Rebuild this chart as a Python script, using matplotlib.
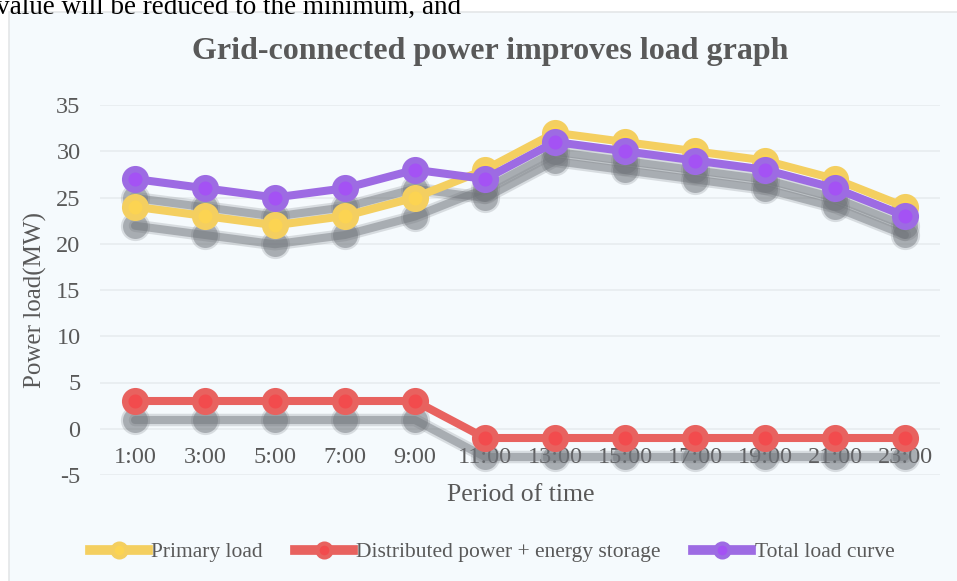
import matplotlib
matplotlib.use("Agg")
import matplotlib.pyplot as plt
import matplotlib.transforms as mtransforms
from matplotlib.lines import Line2D
from matplotlib.patches import Rectangle

# ── Data ─────────────────────────────────────────────────────────────────────
hours = ["1:00", "3:00", "5:00", "7:00", "9:00", "11:00", "13:00",
         "15:00", "17:00", "19:00", "21:00", "23:00"]
primary_load = [24, 23, 22, 23, 25, 28, 32, 31, 30, 29, 27, 24]
distributed = [3, 3, 3, 3, 3, -1, -1, -1, -1, -1, -1, -1]
total_load = [27, 26, 25, 26, 28, 27, 31, 30, 29, 28, 26, 23]
y_ticks = [-5, 0, 5, 10, 15, 20, 25, 30, 35]

series = [
    ("Primary load", primary_load, "#f4cf60", "#fcd452"),
    ("Distributed power + energy storage", distributed, "#e8625f", "#f24b4d"),
    ("Total load curve", total_load, "#9d6be3", "#a452f4"),
]

TEXT = "#595959"
SERIF = ["Liberation Serif", "DejaVu Serif"]
plt.rcParams.update({
    "font.family": SERIF,
    "text.color": TEXT,
    "axes.labelcolor": TEXT,
    "xtick.color": TEXT,
    "ytick.color": TEXT,
})

fig = plt.figure(figsize=(9.57, 5.81), dpi=100)
fig.patch.set_facecolor("white")

# chart area box (behind the axes)
fig.patches.append(Rectangle((9 / 957, -0.01), 1.0, 1 - 12 / 581 + 0.01,
                             transform=fig.transFigure, facecolor="#f5fafd",
                             edgecolor="#e4e6e8", linewidth=1.2, zorder=-5))

# paragraph text above the chart (cut at the page edge in the source)
fig.text(-0.004, 1 - 14 / 581, "value will be reduced to the minimum, and",
         fontsize=19.5, color="black", va="baseline", ha="left")

ax = fig.add_axes([100 / 957, 1 - 475 / 581, 840 / 957, 370 / 581])
ax.set_facecolor("none")
x = list(range(len(hours)))

# shadows first (offset down a bit, soft grey)
shadow_tr = mtransforms.offset_copy(ax.transData, fig=fig, x=0, y=-19,
                                    units="dots")
for name, vals, line_c, face_c in series:
    ax.plot(x, vals, color="#70747a", lw=9, alpha=0.22, transform=shadow_tr,
            solid_capstyle="round", marker="o", ms=21, mew=0, zorder=1)
    ax.plot(x, vals, color="#70747a", lw=5.8, alpha=0.45, transform=shadow_tr,
            solid_capstyle="round", marker="o", ms=18, mew=0, zorder=1.1)

for name, vals, line_c, face_c in series:
    ax.plot(x, vals, color=line_c, lw=5.8, marker="o", ms=14.8,
            mfc=face_c, mec=line_c, mew=4.7, zorder=3, label=name)

ax.set_xlim(-0.5, len(hours) - 0.5)
ax.set_ylim(-5, 35)
ax.set_yticks(y_ticks)
ax.set_yticklabels([str(v) for v in y_ticks])
ax.set_xticks(x)
ax.set_xticklabels(hours)
ax.tick_params(axis="both", length=0, labelsize=17.5)
ax.tick_params(axis="y", pad=14)
ax.tick_params(axis="x", pad=13)
for s in ["top", "right", "left"]:
    ax.spines[s].set_visible(False)
ax.spines["bottom"].set_position(("data", 0))
ax.spines["bottom"].set_visible(False)
ax.grid(axis="y", color="#e8edf0", lw=1.3)
ax.set_axisbelow(True)

ax.set_ylabel("Power load(MW)", fontsize=18)
ax.yaxis.set_label_coords(-0.077, 0.473)
ax.yaxis.label.set_va("center")
ax.set_xlabel("Period of time", fontsize=18.5)
ax.xaxis.set_label_coords(0.501, -0.054)
ax.xaxis.label.set_va("center")

fig.text(490 / 957, 1 - 52 / 581, "Grid-connected power improves load graph",
         fontsize=23, fontweight="bold", ha="center", va="center", color=TEXT)

handles = [Line2D([], [], color=c, lw=7, marker="o", ms=10, mfc=f, mec=c,
                  mew=3) for _, _, c, f in series]
fig.legend(handles, [s[0] for s in series], loc="center",
           bbox_to_anchor=(492 / 957, 1 - 552 / 581), ncol=3, frameon=False,
           fontsize=15.5, handlelength=2.7, handletextpad=0.15,
           columnspacing=1.5, labelcolor=TEXT)

fig.savefig("out.png", dpi=100)
